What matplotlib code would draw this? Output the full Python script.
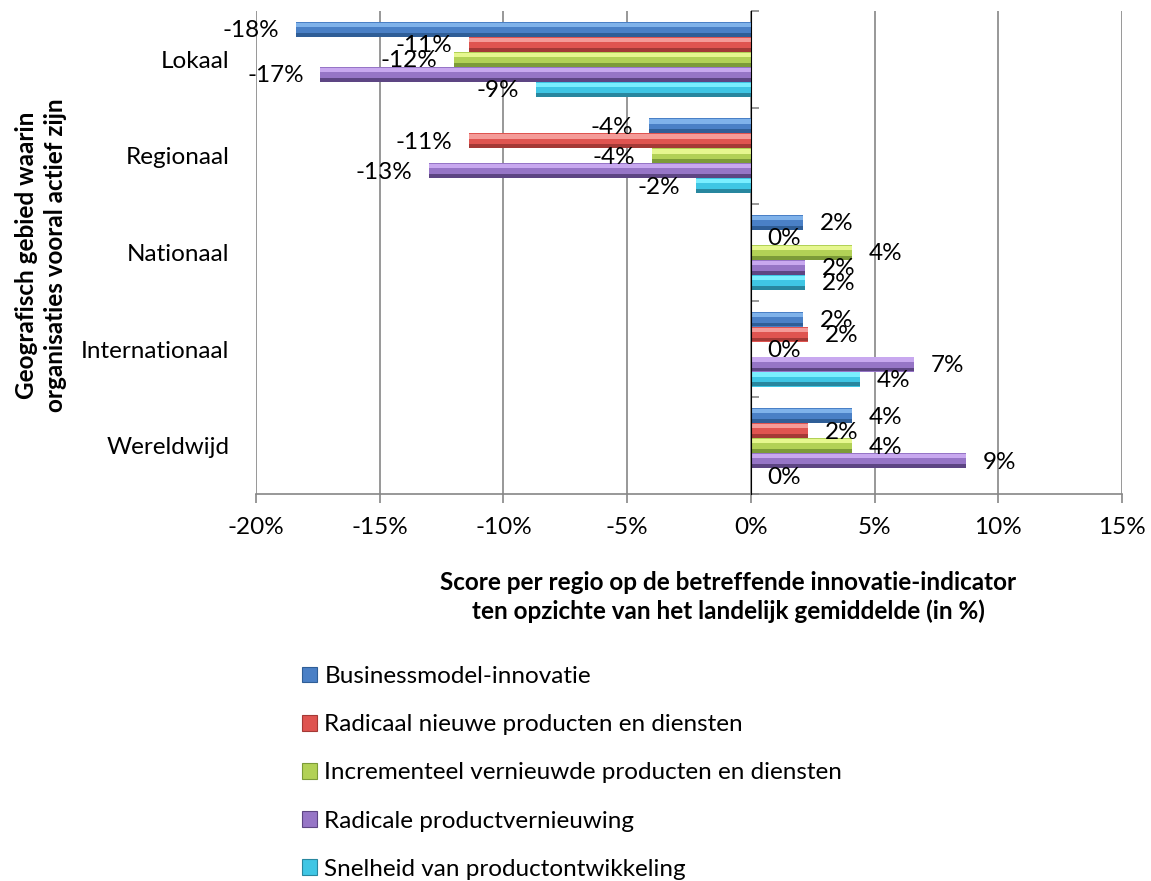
import matplotlib
matplotlib.use("Agg")
import matplotlib.pyplot as plt
from matplotlib.patches import Patch
import numpy as np

plt.rcParams['font.family'] = ['Lato', 'DejaVu Sans']

categories = ["Lokaal", "Regionaal", "Nationaal", "Internationaal", "Wereldwijd"]
series_names = [
    "Businessmodel-innovatie",
    "Radicaal nieuwe producten en diensten",
    "Incrementeel vernieuwde producten en diensten",
    "Radicale productvernieuwing",
    "Snelheid van productontwikkeling",
]
businessmodel = [-18.4, -4.1, 2.1, 2.1, 4.1]
radicaal_nieuw = [-11.4, -11.4, 0.0, 2.3, 2.3]
incrementeel = [-12.0, -4.0, 4.1, 0.0, 4.1]
radicale_pv = [-17.4, -13.0, 2.2, 6.6, 8.7]
snelheid = [-8.7, -2.2, 2.2, 4.4, 0.0]
series_values = [businessmodel, radicaal_nieuw, incrementeel, radicale_pv, snelheid]
x_ticks = [-20, -15, -10, -5, 0, 5, 10, 15]

# (highlight, main, shadow)
colors = [
    ("#7fb2ea", "#4a80c6", "#2f5e97"),
    ("#f49b98", "#df5450", "#a43936"),
    ("#e6f78f", "#b2d156", "#7c9b38"),
    ("#c8a8ef", "#9675c6", "#5d4583"),
    ("#7aeeff", "#3fc6e4", "#28879f"),
]

FS = 17.5
fig = plt.figure(figsize=(11.51, 8.81), dpi=100)
ax = fig.add_axes([256/1151, 1-494/881, (1122-256)/1151, (494-11)/881])

h = 0.155
y = np.arange(len(categories))
for j, (vals, col) in enumerate(zip(series_values, colors)):
    yc = y + (j - 2) * h
    ax.barh(yc, vals, height=h, color=col[1], zorder=3)
    ax.barh(yc - h * 0.30, vals, height=h * 0.28, color=col[0], zorder=4)
    ax.barh(yc + h * 0.36, vals, height=h * 0.26, color=col[2], zorder=4)
    for yy, v in zip(yc, vals):
        lbl = f"{round(v):.0f}%"
        if v < 0:
            ax.annotate(lbl, (v, yy), xytext=(-12, -1), textcoords="offset points",
                        ha="right", va="center", fontsize=FS, color="black", zorder=6)
        else:
            ax.annotate(lbl, (v, yy), xytext=(12, -1), textcoords="offset points",
                        ha="left", va="center", fontsize=FS, color="black", zorder=6)

ax.set_xlim(-20, 15)
ax.set_ylim(len(categories) - 0.5, -0.5)
ax.set_xticks(x_ticks)
ax.set_xticklabels([f"{t}%" for t in x_ticks], fontsize=FS)
ax.set_yticks(y)
ax.set_yticklabels(categories, fontsize=FS)
ax.tick_params(axis="y", length=0, pad=19)
ax.tick_params(axis="x", length=6.5, width=1.2, color="#868686", pad=10, direction="out")
ax.grid(axis="x", color="#868686", linewidth=1.2, zorder=0)
ax.set_axisbelow(True)
for s in ["top", "left", "right"]:
    ax.spines[s].set_visible(False)
ax.spines["bottom"].set_color("#868686")
ax.spines["bottom"].set_linewidth(1.2)

# category axis crossing at 0
loc = (0 - x_ticks[0]) / (x_ticks[-1] - x_ticks[0])
sec = ax.secondary_yaxis(loc)
sec.set_yticks(np.arange(len(categories) + 1) - 0.5)
sec.set_yticklabels([])
sec.tick_params(axis="y", length=6, width=1.2, color="#868686", direction="out")
sec.spines["left"].set_color("#868686")
sec.spines["left"].set_linewidth(1.2)
sec.set_zorder(5)

fig.text(728/1151, 1-597/881,
         "Score per regio op de betreffende innovatie-indicator\nten opzichte van het landelijk gemiddelde (in %)",
         ha="center", va="center", fontsize=FS, fontweight="bold", linespacing=1.3)
fig.text(41/1151, 1-255/881,
         "Geografisch gebied waarin\norganisaties vooral actief zijn",
         ha="center", va="center", rotation=90, fontsize=FS, fontweight="bold", linespacing=1.35)

handles = [Patch(facecolor=c[1], edgecolor=c[2], linewidth=0.8) for c in colors]
fig.legend(handles, series_names, loc="upper left", bbox_to_anchor=(302/1151, 1-666/881),
           frameon=False, fontsize=FS, handlelength=0.62, handleheight=0.62,
           handletextpad=0.3, labelspacing=1.12, borderpad=0, borderaxespad=0)

fig.savefig("out.png", dpi=100)
